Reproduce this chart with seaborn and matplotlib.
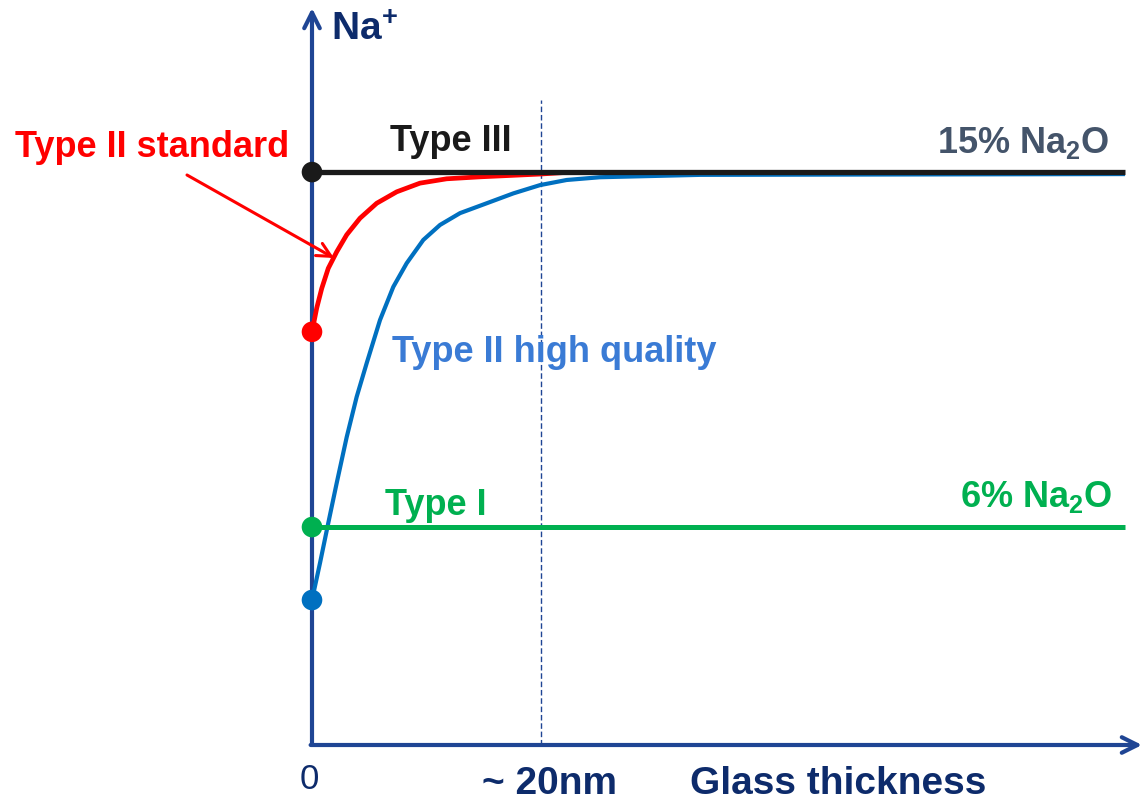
import matplotlib
matplotlib.use('Agg')
import matplotlib.pyplot as plt
import pandas as pd
import seaborn as sns

# data: x = glass thickness (nm), y = Na2O content (%)
red_x = [0, 0.41, 0.85, 1.42, 2.16, 3.03, 4.19, 5.65, 7.40, 9.43, 11.76, 14.67, 19.91, 22.1]
red_y = [10.95, 11.55, 12.05, 12.56, 12.98, 13.41, 13.83, 14.21, 14.50, 14.72, 14.83, 14.88, 14.95, 14.99]
blue_x = [0, 0.70, 1.42, 2.16, 3.03, 3.90, 4.78, 5.94, 7.10, 8.27, 9.72, 11.18, 12.93,
          15.26, 17.58, 19.91, 22.24, 25.15, 33.9, 71.0]
blue_y = [4.15, 5.09, 6.10, 7.12, 8.28, 9.30, 10.16, 11.25, 12.09, 12.69, 13.28, 13.66, 13.96,
          14.21, 14.46, 14.67, 14.80, 14.87, 14.93, 14.95]
black_x = [0, 71.0]
black_y = [15, 15]
green_x = [0, 71.0]
green_y = [6, 6]
start_y = {'Type III': 15, 'Type II standard': 10.95, 'Type I': 6, 'Type II high quality': 4.15}

colors = {'Type III': '#1a1a1a', 'Type II standard': '#ff0000',
          'Type I': '#00b050', 'Type II high quality': '#0070c0'}
navy = '#1f4594'
txt_navy = '#0d2b6b'

sns.set_style('white')
plt.rcParams['font.family'] = ['Liberation Sans', 'DejaVu Sans']
plt.rcParams['mathtext.fontset'] = 'custom'
plt.rcParams['mathtext.rm'] = 'Liberation Sans:bold'
plt.rcParams['mathtext.bf'] = 'Liberation Sans:bold'

fig = plt.figure(figsize=(11.44, 8.02), dpi=100)
ax = fig.add_axes([0, 0, 1, 1])
# pixel -> data mapping: x0 at px 312, 11.45 px/nm ; y0 at py 763.7, 39.44 px/%
ax.set_xlim(-312 / 11.45, (1144 - 312) / 11.45)
ax.set_ylim((763.7 - 802) / 39.44, 763.7 / 39.44)
ax.axis('off')

def px(x, y):
    return (x - 312) / 11.45, (763.7 - y) / 39.44

# axes with arrows
y_axis = px(0, 745)[1]
ax.annotate('', xy=px(312, 8), xytext=(0, y_axis),
            arrowprops=dict(arrowstyle='->', lw=3, color=navy, mutation_scale=28,
                            shrinkA=0, shrinkB=0), zorder=1)
ax.annotate('', xy=px(1142, 745), xytext=(-0.12, y_axis),
            arrowprops=dict(arrowstyle='->', lw=3, color=navy, mutation_scale=28,
                            shrinkA=0, shrinkB=0), zorder=1)
# dashed 20nm guide
ax.plot([20, 20], [y_axis, px(0, 100)[1]], ls=(0, (4, 2)), lw=1, color=navy, zorder=1)

df = pd.concat([
    pd.DataFrame({'x': blue_x, 'y': blue_y, 'type': 'Type II high quality'}),
    pd.DataFrame({'x': red_x, 'y': red_y, 'type': 'Type II standard'}),
    pd.DataFrame({'x': green_x, 'y': green_y, 'type': 'Type I'}),
    pd.DataFrame({'x': black_x, 'y': black_y, 'type': 'Type III'}),
])
for name, lw in [('Type II high quality', 3.0), ('Type II standard', 3.4),
                 ('Type I', 3.6), ('Type III', 3.8)]:
    sns.lineplot(data=df[df['type'] == name], x='x', y='y', color=colors[name],
                 lw=lw, sort=False, estimator=None, ax=ax, legend=False, zorder=3,
                 solid_joinstyle='round', solid_capstyle='butt')

starts = pd.DataFrame({'x': 0, 'y': list(start_y.values()), 'type': list(start_y.keys())})
sns.scatterplot(data=starts, x='x', y='y', hue='type', palette=colors, s=220,
                linewidth=0, legend=False, ax=ax, zorder=5)

def label(x, y, s, color, size=26, ha='left', weight='bold'):
    ax.text(*px(x, y), s, color=color, fontsize=size, fontweight=weight,
            ha=ha, va='baseline')

label(331, 40, r'Na$^{+}$', txt_navy, size=28)
label(390, 151, 'Type III', '#1a1a1a')
label(1110, 153, r'15% Na$_\mathregular{2}$O', '#44546a', ha='right')
label(15, 157, 'Type II standard', '#ff0000')
label(392, 362, 'Type II high quality', '#3a7bd5')
label(385, 515, 'Type I', '#00b050')
label(1112, 507, r'6% Na$_\mathregular{2}$O', '#00b050', ha='right')
label(309, 789, '0', txt_navy, ha='center', weight='normal', size=25)
label(482, 794, '~ 20nm', txt_navy, size=28)
label(690, 794, 'Glass thickness', txt_navy, size=28)

ax.annotate('', xy=px(334, 258), xytext=px(187, 175),
            arrowprops=dict(arrowstyle='->', lw=2.2, color='#ff0000',
                            mutation_scale=25, shrinkA=0, shrinkB=0))

fig.savefig('out.png', dpi=100)
